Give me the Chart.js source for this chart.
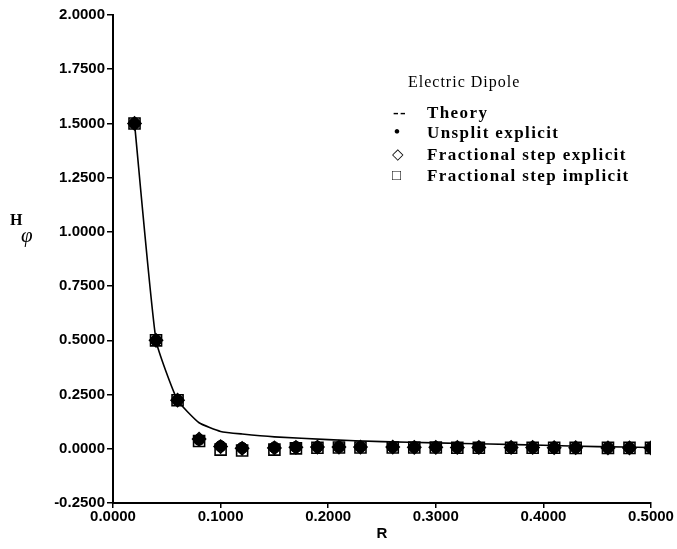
<!DOCTYPE html>
<html lang="en">
    <head>
        <meta charset="UTF-8" />
        <title>Electric Dipole - H phi vs R</title>
        <script src="https://cdn.jsdelivr.net/npm/chart.js"></script>
        <style>
            body { margin: 0; background: #fff; }
            #wrap { position: relative; width: 677px; height: 549px; }
            .lab { position: absolute; font-family: "Liberation Serif", serif; color: #000; white-space: nowrap; line-height: 1.15; }
            .leg { font-weight: bold; font-size: 17px; letter-spacing: 1.4px; }
        </style>
    </head>
    <body>
        <div id="wrap">
            <canvas id="dipolo" width="677" height="549"></canvas>
            <div class="lab" style="left:408px; top:73px; font-size:16px; letter-spacing:1px;">Electric Dipole</div>
            <div class="lab leg" style="left:393px; top:103px;">--</div>
            <div class="lab leg" style="left:427px; top:103px;">Theory</div>
            <div class="lab leg" style="left:394px; top:122px;">•</div>
            <div class="lab leg" style="left:427px; top:123px;">Unsplit explicit</div>
            <div class="lab leg" style="left:392px; top:146px; font-weight:normal; font-size:15px;">◇</div>
            <div class="lab leg" style="left:427px; top:145px;">Fractional step explicit</div>
            <div class="lab leg" style="left:392px; top:167px; font-weight:normal; font-size:15px;">□</div>
            <div class="lab leg" style="left:427px; top:166px;">Fractional step implicit</div>
            <div class="lab" style="left:10px; top:211px; font-size:16px; font-weight:bold;">H</div>
            <div class="lab" style="left:21px; top:223px; font-size:21px; font-style:italic;">φ</div>
        </div>

        <script>
            // Curva teórica
            const rTeoria = [0.02, 0.04, 0.06, 0.08, 0.10, 0.12, 0.15, 0.20, 0.25, 0.30, 0.35, 0.40, 0.45, 0.50];
            const hTeoria = [1.5, 0.5, 0.224, 0.12, 0.08, 0.068, 0.055, 0.042, 0.033, 0.027, 0.022, 0.016, 0.01, 0.006];

            // Puntos numéricos
            const rPuntos = [0.02, 0.04, 0.06, 0.08, 0.10, 0.12, 0.15, 0.17, 0.19, 0.21, 0.23, 0.26, 0.28, 0.30, 0.32, 0.34, 0.37, 0.39, 0.41, 0.43, 0.46, 0.48, 0.50];
            const hUnsplit = [1.5, 0.5, 0.224, 0.042, 0.012, 0.004, 0.006, 0.008, 0.008, 0.008, 0.008, 0.008, 0.007, 0.007, 0.006, 0.006, 0.006, 0.006, 0.005, 0.005, 0.004, 0.004, 0.004];
            const hFracExpl = [1.5, 0.5, 0.224, 0.045, 0.01, 0.002, 0.004, 0.007, 0.008, 0.008, 0.008, 0.008, 0.007, 0.007, 0.006, 0.006, 0.006, 0.006, 0.005, 0.005, 0.004, 0.004, 0.004];
            const hFracImpl = [1.5, 0.5, 0.224, 0.036, -0.004, -0.008, -0.004, 0.002, 0.005, 0.006, 0.006, 0.006, 0.006, 0.006, 0.005, 0.005, 0.005, 0.005, 0.005, 0.004, 0.004, 0.004, 0.004];

            const yTicks = [-0.25, 0, 0.25, 0.5, 0.75, 1.0, 1.25, 1.5, 1.75, 2.0];
            const xTicks = [0, 0.1, 0.2, 0.3, 0.4, 0.5];

            const pares = (xs, ys) => xs.map((x, i) => ({ x: x, y: ys[i] }));

            const fuenteEje = { family: "'Liberation Sans', Arial, sans-serif", size: 15, weight: "bold" };

            const ctx = document.getElementById("dipolo").getContext("2d");
            new Chart(ctx, {
                type: "scatter",
                data: {
                    datasets: [
                        {
                            label: "Theory",
                            data: pares(rTeoria, hTeoria),
                            showLine: true,
                            borderColor: "#000",
                            borderWidth: 1.6,
                            pointRadius: 0,
                            tension: 0.15,
                        },
                        {
                            label: "Fractional step implicit",
                            data: pares(rPuntos, hFracImpl),
                            pointStyle: "rect",
                            pointRadius: 7.8,
                            pointBorderWidth: 1.6,
                            borderColor: "#000",
                            backgroundColor: "rgba(0,0,0,0)",
                        },
                        {
                            label: "Unsplit explicit",
                            data: pares(rPuntos, hUnsplit),
                            pointStyle: "circle",
                            pointRadius: 5.6,
                            borderColor: "#000",
                            backgroundColor: "#000",
                        },
                        {
                            label: "Fractional step explicit",
                            data: pares(rPuntos, hFracExpl),
                            pointStyle: "rectRot",
                            pointRadius: 6.5,
                            pointBorderWidth: 1.6,
                            borderColor: "#000",
                            backgroundColor: "rgba(0,0,0,0)",
                        },
                    ],
                },
                options: {
                    responsive: false,
                    animation: false,
                    layout: { padding: { top: 15, right: 26, left: 0, bottom: 6 } },
                    plugins: { legend: { display: false }, tooltip: { enabled: false } },
                    scales: {
                        x: {
                            type: "linear",
                            min: 0,
                            max: 0.5,
                            afterBuildTicks: (s) => { s.ticks = xTicks.map((v) => ({ value: v })); },
                            afterFit: (s) => { s.height = 40; },
                            ticks: { color: "#000", font: fuenteEje, padding: 0, maxRotation: 0, callback: (v) => v.toFixed(4) },
                            grid: { drawOnChartArea: false, drawTicks: true, tickLength: 5, color: "#000", lineWidth: 1.5 },
                            border: { display: true, color: "#000", width: 2 },
                            title: { display: true, text: "R", color: "#000", font: fuenteEje, padding: { top: 0, bottom: 0 } },
                        },
                        y: {
                            min: -0.25,
                            max: 2.0,
                            afterBuildTicks: (s) => { s.ticks = yTicks.map((v) => ({ value: v })); },
                            afterFit: (s) => { s.width = 113; },
                            ticks: { color: "#000", font: fuenteEje, padding: 2, callback: (v) => v.toFixed(4) },
                            grid: { drawOnChartArea: false, drawTicks: true, tickLength: 6, color: "#000", lineWidth: 1.5 },
                            border: { display: true, color: "#000", width: 2 },
                        },
                    },
                },
            });
        </script>
    </body>
</html>
